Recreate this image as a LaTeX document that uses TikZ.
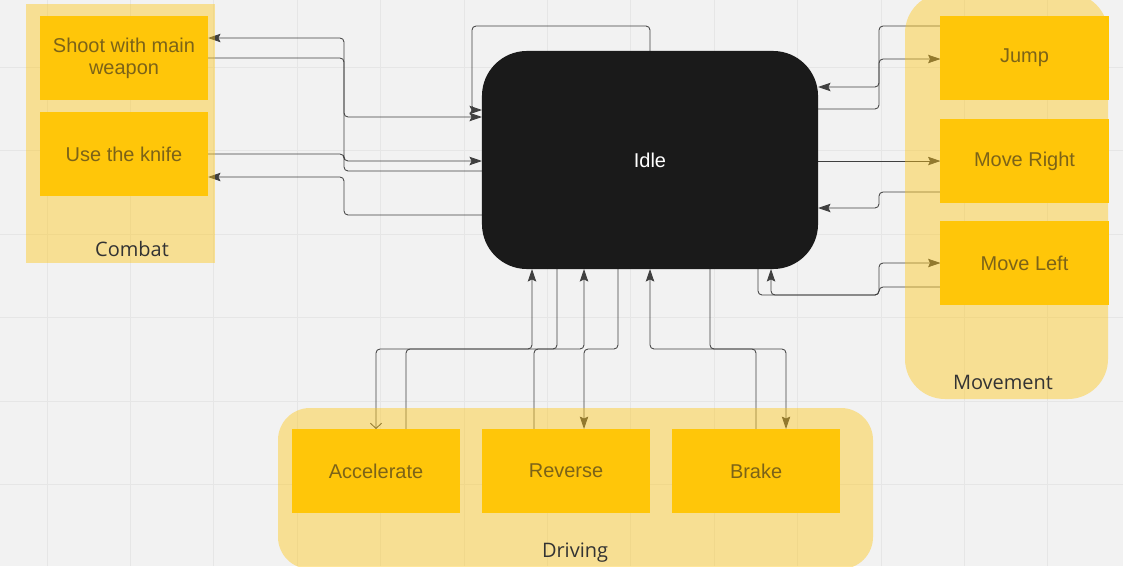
\documentclass[tikz,border=0pt]{standalone}
\usepackage{fontspec}
\setmainfont{Liberation Sans}
\newfontfamily\framefont{Open Sans}
\usepackage{tikz}
\usetikzlibrary{arrows.meta, positioning, backgrounds}

\definecolor{canvas}{HTML}{F2F2F2}
\definecolor{gridgray}{HTML}{E6E6E6}
\definecolor{sticky}{HTML}{FFC600}
\definecolor{framefill}{RGB}{255,198,23}
\definecolor{idlefill}{HTML}{1A1A1A}
\definecolor{wire}{HTML}{404040}

\begin{document}
\begin{tikzpicture}[x=0.025cm, y=-0.025cm]
\tikzstyle{action} = [rectangle, fill=sticky, minimum width=4.2cm, minimum height=2.1cm, outer sep=0pt, align=center, text=black!90, font=\fontsize{14.2}{15.8}\selectfont]
\tikzstyle{state} = [rectangle, fill=idlefill, rounded corners=1.125cm, minimum width=8.4cm, minimum height=5.45cm, outer sep=0pt, text=white, font=\fontsize{14.2}{17}\selectfont]
\tikzstyle{link} = [draw=wire, line width=0.6pt, rounded corners=0.1cm, -{Stealth[length=3.1mm,width=2.1mm,inset=0.5mm]}]
\tikzstyle{frame} = [fill=framefill, fill opacity=0.43]
\tikzstyle{framelabel} = [text=black!80, font=\framefont\fontsize{14.2}{17}\selectfont]

\useasboundingbox (0,0) rectangle (1123,566);

\node (idle) [state] at (650,160) {Idle};

% combat
\node (shoot) [action] at (124,58) {Shoot with main\\weapon};
\node (knife) [action, below=0.3cm of shoot] {Use the knife};

% movement
\node (jump) [action] at (1024.5,58) {Jump};
\node (moveright) [action, below=0.475cm of jump] {Move Right};
\node (moveleft) [action, below=0.45cm of moveright] {Move Left};

% driving
\node (accel) [action] at (376,471) {Accelerate};
\node (reverse) [action, right=0.55cm of accel] {Reverse};
\node (brake) [action, right=0.55cm of reverse] {Brake};

\begin{scope}[on background layer]
\fill[canvas] (0,0) rectangle (1123,566);
\foreach \i in {0,...,13}
  \draw[gridgray, line width=0.6pt] (47+83.4*\i,0) -- (47+83.4*\i,566);
\foreach \j in {1,...,6}
  \draw[gridgray, line width=0.6pt] (0,-16+83.4*\j) -- (1123,-16+83.4*\j);

\draw[link] (shoot.east |- 0,58) -| (344,117) -- (idle.west |- 0,117);
\draw[link] (idle.west |- 0,171) -| (344,38) -- (shoot.east |- 0,38);
\draw[link] (knife.east |- 0,154) -| (344,161) -- (idle.west |- 0,161);
\draw[link] (idle.west |- 0,215) -| (344,177) -- (knife.east |- 0,177);
\draw[link] (idle.north) |- (472,26) |- (idle.west |- 0,110);

\draw[link] (jump.west |- 0,26) -| (879,87) -- (idle.east |- 0,87);
\draw[link] (idle.east |- 0,109) -| (879,59) -- (jump.west |- 0,59);
\draw[link] (idle.east |- moveright.west) -- (moveright.west);
\draw[link] (moveright.west |- 0,192) -| (879,208) -- (idle.east |- 0,208);
\draw[link] (idle.center -| 758,0) |- (879,295) |- (moveleft.west |- 0,263);
\draw[link] (moveleft.west |- 0,287) -| (879,295) -| (idle.south -| 771,0);

\draw[link] (accel.north -| 406,0) |- (532,349) -- (idle.south -| 532,0);
\draw[link, -{Straight Barb[length=1.3mm,width=2.8mm]}] (idle.center -| 557,0) |- (376,349) -- (accel.north -| 376,0);
\draw[link] (reverse.north -| 534,0) |- (584,349) -- (idle.south -| 584,0);
\draw[link] (idle.center -| 618,0) |- (584,349) -- (reverse.north -| 584,0);
\draw[link] (brake.north -| 756,0) |- (650,349) -- (idle.south);
\draw[link] (idle.center -| 710,0) |- (786,349) -- (brake.north -| 786,0);
\end{scope}

\fill[frame] (26,4) rectangle (215,263);
\fill[frame, rounded corners=1cm] (905,-7) rectangle (1108,399);
\fill[frame, rounded corners=0.8cm] (278,408) rectangle (873,569);

\node[framelabel] at (132,249) {Combat};
\node[framelabel] at (1003,382) {Movement};
\node[framelabel] at (575,553) {Driving};
\end{tikzpicture}
\end{document}
